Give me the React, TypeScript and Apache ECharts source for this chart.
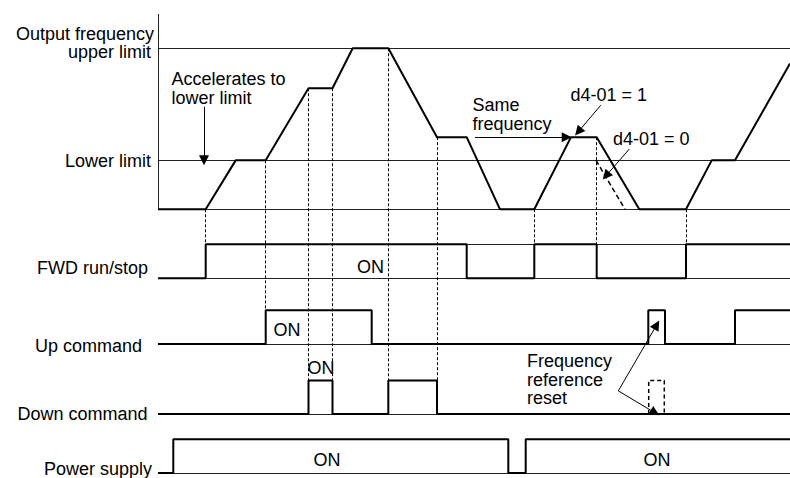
import React, { useEffect, useRef } from "react";
import * as echarts from "echarts";

// ---- Data (time units along x, frequency units along y) ----
const freqTimes = [0, 47.7, 77.7, 107.7, 150.5, 174.5, 194.7, 230.3, 279, 308.7, 342, 376.3, 413, 438.7, 481.3, 528, 553.7, 577, 632];
const freqValues = [0, 0, 15.2, 15.2, 37.6, 37.6, 50, 50, 22.4, 22.4, 0, 0, 22.4, 22.4, 0, 0, 15.2, 15.2, 45.3];
const d4ZeroTimes = [438, 467];
const d4ZeroValues = [15.2, 0];
const lowerLimit = 15.2;
const upperLimit = 50;
const endTime = 632;

// signal transition times (each starts OFF)
const fwdEdges = [47.7, 308.7, 376.3, 438.7, 528];
const upEdges = [107.7, 213.7, 490.3, 507, 577];
const downEdges = [150.5, 174.5, 230.3, 279];
const powerEdges = [15.3, 350.3, 367.7];
const resetPulse = [490.7, 506.3];

// dotted guide lines: time, frequency start, target row
const guideTimes = [47.7, 107.7, 150.5, 174.5, 230.3, 279, 376.3, 438.7, 528];
const guideFrom = [0, 15.2, 37.6, 37.6, 50, 22.4, 0, 22.4, 0];
const guideRow = ["fwd", "up", "down", "down", "down", "down", "fwd", "fwd", "fwd"];

// ---- Layout ----
const rowLevels: Record<string, { low: number; high: number }> = {
  fwd: { low: -21.43, high: -10.87 },
  up: { low: -41.83, high: -31.37 },
  down: { low: -63.57, high: -53.17 },
  power: { low: -81.89, high: -71.4 },
};
const FONT = '18px "Liberation Sans", Arial, sans-serif';

function stepPoints(edges: number[], low: number, high: number) {
  const pts: number[][] = [[0, low]];
  let level = low;
  for (const e of edges) {
    pts.push([e, level]);
    level = level === low ? high : low;
    pts.push([e, level]);
  }
  pts.push([endTime, level]);
  return pts;
}

const texts = [
  { t: "Output frequency", x: 154, y: 33.5, a: "right" },
  { t: "upper limit", x: 151, y: 52, a: "right" },
  { t: "Lower limit", x: 151, y: 160.5, a: "right" },
  { t: "Accelerates to", x: 171.5, y: 79, a: "left" },
  { t: "lower limit", x: 171.5, y: 97.5, a: "left" },
  { t: "FWD run/stop", x: 148, y: 268, a: "right" },
  { t: "Up command", x: 142, y: 345.5, a: "right" },
  { t: "Down command", x: 147.5, y: 413.5, a: "right" },
  { t: "Power supply", x: 152, y: 468.5, a: "right" },
  { t: "ON", x: 370.5, y: 267, a: "center" },
  { t: "ON", x: 287, y: 329.5, a: "center" },
  { t: "ON", x: 321, y: 367.5, a: "center" },
  { t: "ON", x: 327, y: 459.5, a: "center" },
  { t: "ON", x: 657, y: 459.5, a: "center" },
  { t: "Same", x: 472.5, y: 105, a: "left" },
  { t: "frequency", x: 472.5, y: 123.5, a: "left" },
  { t: "d4-01 = 1", x: 570.5, y: 95, a: "left" },
  { t: "d4-01 = 0", x: 613, y: 138.5, a: "left" },
  { t: "Frequency", x: 527, y: 361, a: "left" },
  { t: "reference", x: 527, y: 379.5, a: "left" },
  { t: "reset", x: 527, y: 398, a: "left" },
];

const arrows = [
  [[46, 31.86], [46, 15.2]],
  [[317, 22.36], [408.7, 22.36]],
  [[442.7, 32.3], [420.3, 24.1]],
  [[471.3, 18.7], [448, 10.4]],
  [[460.3, -56.4], [498.7, -35.9]],
  [[460.3, -56.4], [497, -63.2]],
];

export default function App() {
  const ref = useRef<HTMLDivElement>(null);
  useEffect(() => {
    if (!ref.current) return;
    const chart = echarts.init(ref.current, null, { renderer: "svg" });
    const thick = { color: "#000", width: 2 };
    const series: any[] = [];

    // axis line + reference lines
    const thinLines: any[] = [
      { coords: [[0, 0], [0, 60.65]] },
      { coords: [[0, upperLimit], [endTime, upperLimit]] },
      { coords: [[0, lowerLimit], [endTime, lowerLimit]] },
      { coords: [[0, 0], [endTime, 0]] },
      { coords: [[fwdEdges[0], rowLevels.fwd.high], [endTime, rowLevels.fwd.high]] },
    ];
    Object.keys(rowLevels).forEach((k) => {
      thinLines.push({ coords: [[0, rowLevels[k].low], [endTime, rowLevels[k].low]] });
    });
    series.push({
      type: "lines",
      coordinateSystem: "cartesian2d",
      data: thinLines,
      lineStyle: { color: "#222", width: 1, opacity: 1 },
      silent: true,
    });

    // dotted guides
    series.push({
      type: "lines",
      coordinateSystem: "cartesian2d",
      data: guideTimes.map((t, i) => ({ coords: [[t, guideFrom[i]], [t, rowLevels[guideRow[i]].high]] })),
      lineStyle: { color: "#000", width: 1, type: [3, 2], opacity: 1 },
      silent: true,
    });

    // frequency waveform
    series.push({
      type: "line",
      data: freqTimes.map((t, i) => [t, freqValues[i]]),
      showSymbol: false,
      lineStyle: thick,
      silent: true,
    });
    series.push({
      type: "line",
      data: d4ZeroTimes.map((t, i) => [t, d4ZeroValues[i]]),
      showSymbol: false,
      lineStyle: { color: "#000", width: 1.5, type: [5, 3] },
      silent: true,
    });

    // signals
    const sig: [number[], string][] = [
      [fwdEdges, "fwd"],
      [upEdges, "up"],
      [downEdges, "down"],
      [powerEdges, "power"],
    ];
    sig.forEach(([edges, k]) => {
      series.push({
        type: "line",
        data: stepPoints(edges, rowLevels[k].low, rowLevels[k].high),
        showSymbol: false,
        lineStyle: thick,
        silent: true,
      });
    });
    const d = rowLevels.down;
    series.push({
      type: "line",
      data: [
        [resetPulse[0], d.low],
        [resetPulse[0], d.high],
        [resetPulse[1], d.high],
        [resetPulse[1], d.low],
      ],
      showSymbol: false,
      lineStyle: { color: "#000", width: 1.5, type: [4, 3] },
      silent: true,
    });

    // arrows
    series.push({
      type: "lines",
      coordinateSystem: "cartesian2d",
      data: arrows.map((c) => ({ coords: c })),
      symbol: ["none", "triangle"],
      symbolSize: [6, 10],
      lineStyle: { color: "#000", width: 1, opacity: 1 },
      itemStyle: { color: "#000" },
      silent: true,
    });

    chart.setOption({
      animation: false,
      backgroundColor: "#fff",
      grid: { left: 158, right: 0, top: 0, bottom: 0 },
      xAxis: { type: "value", min: 0, max: endTime, show: false },
      yAxis: { type: "value", min: -83.45, max: 65.0, show: false },
      series,
      graphic: texts.map((tx) => ({
        type: "text",
        x: tx.x,
        y: tx.y,
        silent: true,
        style: {
          text: tx.t,
          font: FONT,
          fill: "#000",
          align: tx.a,
          verticalAlign: "middle",
        },
      })),
    });
    return () => chart.dispose();
  }, []);
  return (
    <div
      ref={ref}
      style={{ position: "fixed", left: 0, top: 0, width: 790, height: 478, background: "#fff" }}
    />
  );
}
